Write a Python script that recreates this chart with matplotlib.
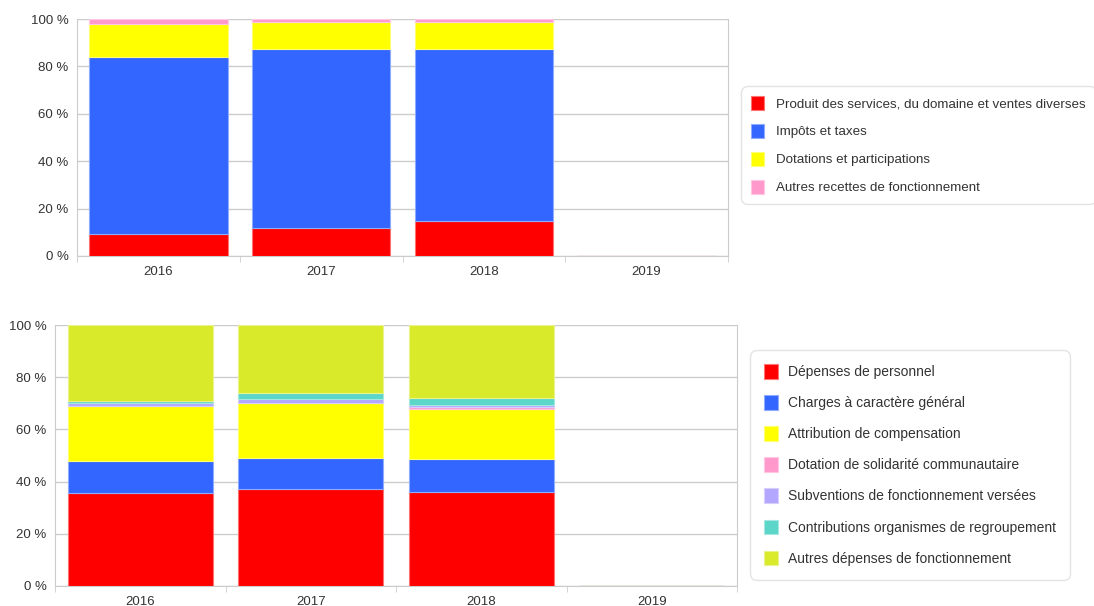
import numpy as np
import matplotlib.pyplot as plt
from matplotlib.patches import Patch
from matplotlib.ticker import FuncFormatter

plt.rcParams['font.family'] = ['Liberation Sans', 'DejaVu Sans']

years = ["2016", "2017", "2018", "2019"]

# Recettes de fonctionnement (%)
rec_labels = ["Produit des services, du domaine et ventes diverses", "Impôts et taxes",
              "Dotations et participations", "Autres recettes de fonctionnement"]
rec_colors = ["#ff0000", "#3366ff", "#ffff00", "#ff99cc"]
produit = [9.3, 11.7, 14.8, 0]
impots = [74.6, 75.7, 72.6, 0]
dotations = [13.8, 11.3, 11.3, 0]
autres_rec = [2.3, 1.3, 1.3, 0]

# Dépenses de fonctionnement (%)
dep_labels = ["Dépenses de personnel", "Charges à caractère général", "Attribution de compensation",
              "Dotation de solidarité communautaire", "Subventions de fonctionnement versées",
              "Contributions organismes de regroupement", "Autres dépenses de fonctionnement"]
dep_colors = ["#ff0000", "#3366ff", "#ffff00", "#ff99cc", "#b3a6ff", "#5cd6c8", "#d9ea2b"]
personnel = [35.7, 37.2, 36.2, 0]
charges = [12.3, 11.8, 12.3, 0]
attribution = [20.9, 21.1, 19.5, 0]
solidarite = [0.2, 0.2, 0.5, 0]
subventions = [1.2, 1.2, 0.8, 0]
contributions = [0.5, 2.4, 2.8, 0]
autres_dep = [29.2, 26.1, 27.9, 0]


def lighten(c, f=0.45):
    import matplotlib.colors as mc
    r, g, b = mc.to_rgb(c)
    return (r + (1 - r) * f, g + (1 - g) * f, b + (1 - b) * f)


def stacked(ax, series, colors):
    x = np.arange(len(years))
    bottom = np.zeros(len(years))
    for vals, col in zip(series, colors):
        vals = np.array(vals, dtype=float)
        ax.bar(x, vals, bottom=bottom, width=0.85, color=col,
               edgecolor=lighten(col), linewidth=0.8, zorder=3)
        bottom += vals
    ax.set_xlim(-0.5, len(years) - 0.5)
    ax.set_ylim(0, 100)
    ax.set_yticks([0, 20, 40, 60, 80, 100])
    ax.yaxis.set_major_formatter(FuncFormatter(lambda v, p: f"{int(v)} %"))
    ax.set_xticks(x)
    ax.set_xticklabels(years)
    ax.set_xticks(np.arange(len(years) + 1) - 0.5, minor=True)
    ax.tick_params(axis='x', which='major', length=0, labelsize=9.5, colors='#333333', pad=7)
    ax.tick_params(axis='x', which='minor', length=4, color='#cccccc')
    ax.tick_params(axis='y', length=0, labelsize=9.5, colors='#333333', pad=6)
    ax.grid(axis='y', color='#cccccc', linewidth=1, zorder=0)
    for s in ax.spines.values():
        s.set_color('#cccccc')
    ax.spines['top'].set_visible(False)


fig = plt.figure(figsize=(10.94, 6.06), dpi=100)
ax1 = fig.add_axes([77 / 1094, 1 - 256 / 606, 651 / 1094, 237 / 606])
ax2 = fig.add_axes([55 / 1094, 1 - 586 / 606, 682 / 1094, 261 / 606])

stacked(ax1, [produit, impots, dotations, autres_rec], rec_colors)
stacked(ax2, [personnel, charges, attribution, solidarite, subventions, contributions, autres_dep], dep_colors)


def legend(labels, colors, anchor, size, spacing, pad, textpad):
    handles = [Patch(facecolor=c, edgecolor=lighten(c), linewidth=0.8) for c in colors]
    leg = fig.legend(handles, labels, loc='upper left', bbox_to_anchor=anchor,
                     bbox_transform=fig.transFigure, fontsize=size, frameon=True,
                     fancybox=True, handlelength=1.0, handleheight=1.25,
                     handletextpad=textpad, labelspacing=spacing, borderpad=pad,
                     borderaxespad=0)
    fr = leg.get_frame()
    fr.set_edgecolor('#dddddd')
    fr.set_linewidth(1)
    fr.set_boxstyle('round,pad=0,rounding_size=0.5')
    for t in leg.get_texts():
        t.set_color('#333333')
    return leg


legend(rec_labels, rec_colors, (741 / 1094, 1 - 86 / 606), 9.6, 1.0, 0.75, 0.9)
legend(dep_labels, dep_colors, (750 / 1094, 1 - 350 / 606), 10, 1.16, 1.0, 0.75)

fig.savefig("out.png", dpi=100)
